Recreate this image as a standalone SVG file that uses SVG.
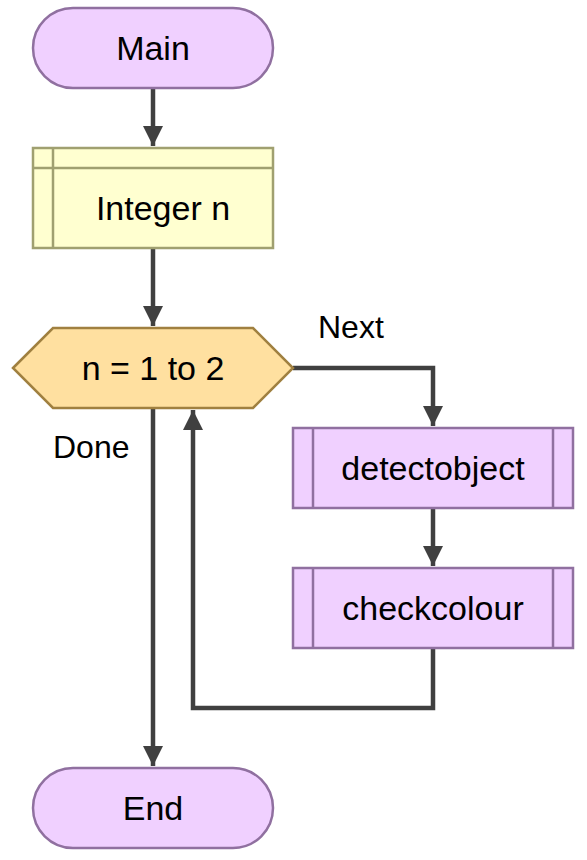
<svg xmlns="http://www.w3.org/2000/svg" width="587" height="860" viewBox="0 0 587 860">
<style>
text{font-family:"Liberation Sans",Arial,sans-serif;font-size:34px;fill:#000;text-anchor:middle}
.term,.proc{fill:#f0d0ff;stroke:#9070a0;stroke-width:2.5}
.decl{fill:#ffffd0;stroke:#a0a070;stroke-width:2.5}
.loop{fill:#ffe0a0;stroke:#a08040;stroke-width:2.5}
.c{fill:none;stroke:#404040;stroke-width:4.5}
.lbl{text-anchor:start;font-size:32px}
</style>
<defs>
<marker id="ah" markerWidth="20" markerHeight="20" refX="20" refY="10" orient="auto" markerUnits="userSpaceOnUse" viewBox="0 0 20 20">
<path d="M0,0 L20,10 L0,20 Z" fill="#404040"/>
</marker>
</defs>
<g id="connectors">
<path class="c" d="M153,88 V146" marker-end="url(#ah)"/>
<path class="c" d="M153,248 V326" marker-end="url(#ah)"/>
<path class="c" d="M293,368 H433 V426" marker-end="url(#ah)"/>
<path class="c" d="M433,508 V566" marker-end="url(#ah)"/>
<path class="c" d="M433,648 V708 H193 V410" marker-end="url(#ah)"/>
<path class="c" d="M153,408 V766" marker-end="url(#ah)"/>
<text class="lbl" x="318" y="338">Next</text>
<text class="lbl" x="53" y="458">Done</text>
</g>
<g id="main">
<rect class="term" x="33" y="8" width="240" height="80" rx="40"/>
<text x="153" y="60">Main</text>
</g>
<g id="decl">
<rect class="decl" x="33" y="148" width="240" height="100"/>
<path class="decl" d="M53,148 V248 M33,168 H273" fill="none"/>
<text x="163" y="220">Integer n</text>
</g>
<g id="for">
<polygon class="loop" points="13,368 53,328 253,328 293,368 253,408 53,408"/>
<text x="153" y="380">n = 1 to 2</text>
</g>
<g id="detectobject">
<rect class="proc" x="293" y="428" width="280" height="80"/>
<path class="proc" d="M313,428 V508 M553,428 V508"/>
<text x="433" y="480">detectobject</text>
</g>
<g id="checkcolour">
<rect class="proc" x="293" y="568" width="280" height="80"/>
<path class="proc" d="M313,568 V648 M553,568 V648"/>
<text x="433" y="620">checkcolour</text>
</g>
<g id="end">
<rect class="term" x="33" y="768" width="240" height="80" rx="40"/>
<text x="153" y="820">End</text>
</g>
</svg>
